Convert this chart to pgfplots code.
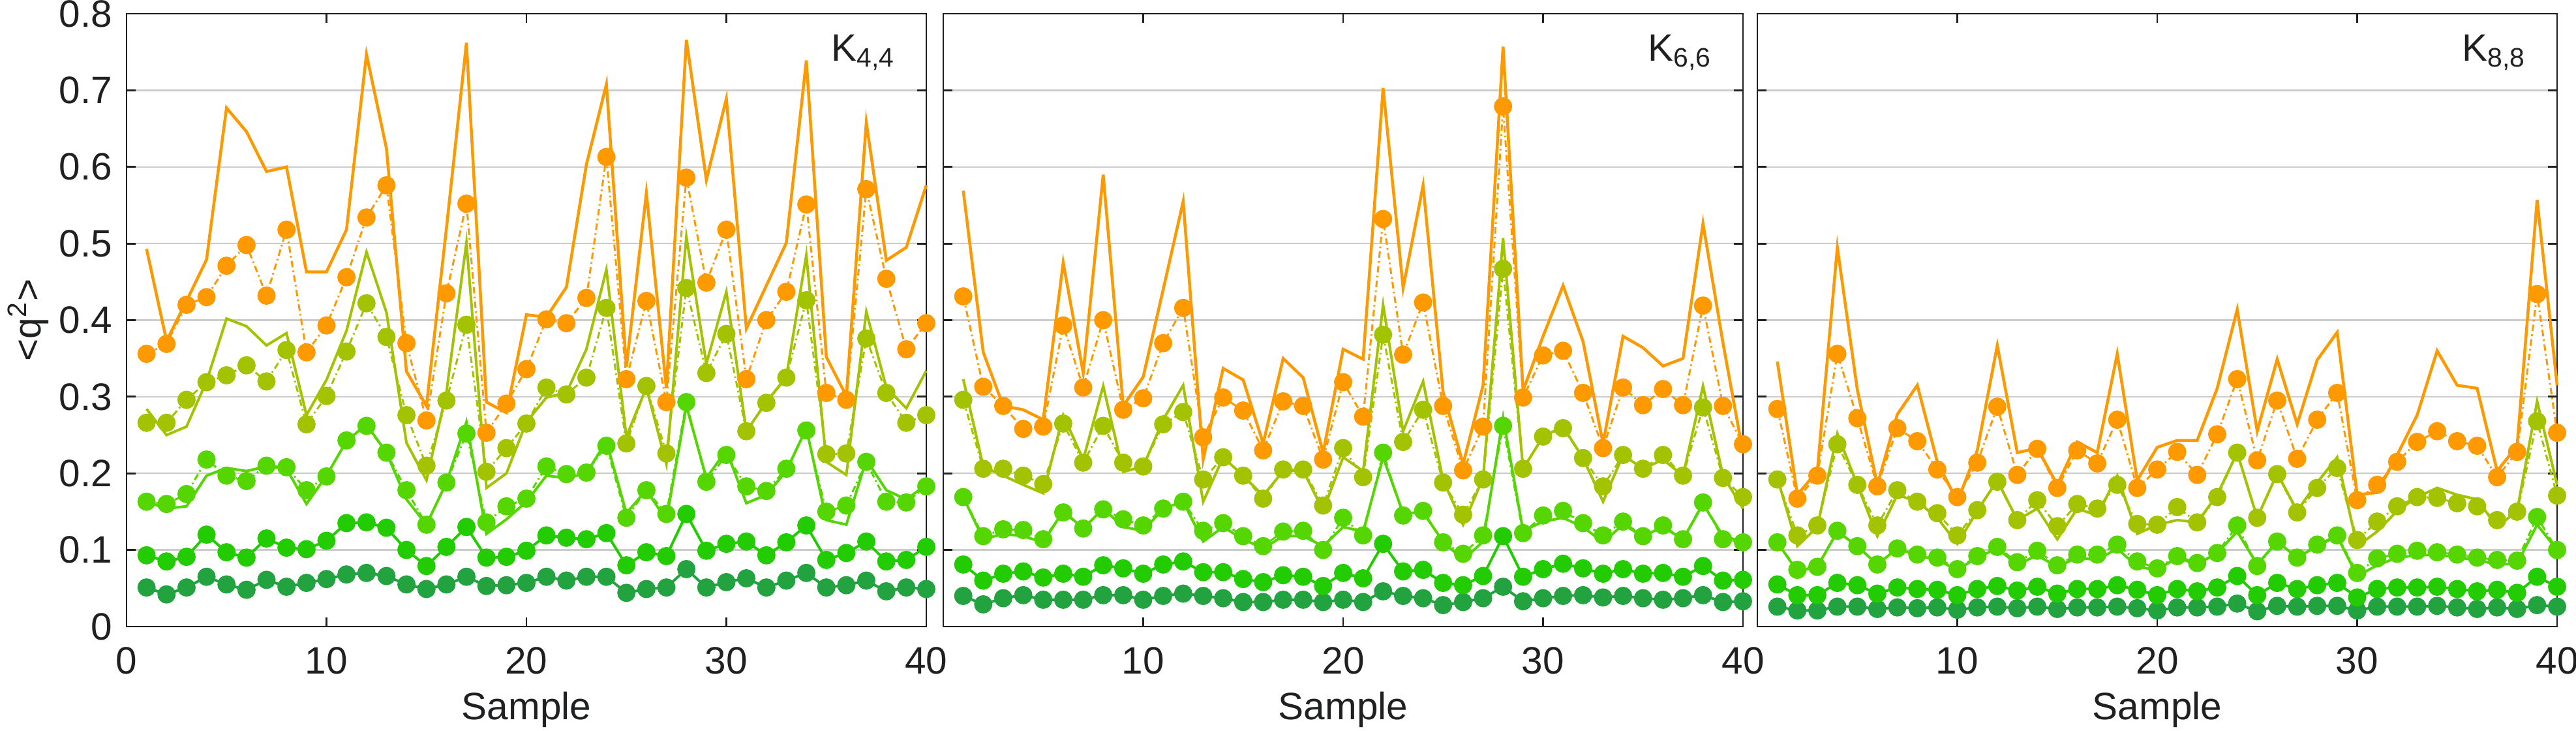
\documentclass[border=0pt]{standalone}
\usepackage{fontspec}
\setmainfont{Liberation Sans}
\usepackage{pgfplots}
\usepackage{pgfplotstable}
\pgfplotsset{compat=1.18}
\definecolor{cOr}{HTML}{FF9900}
\definecolor{cYg}{HTML}{A3C200}
\definecolor{cLg}{HTML}{55D600}
\definecolor{cGr}{HTML}{22CC00}
\definecolor{cDg}{HTML}{22A340}
\definecolor{gridgray}{HTML}{CCCCCC}
\definecolor{axblack}{HTML}{1E2022}
\newcommand\ff{\fontsize{11.7}{14}\selectfont}

\pgfplotstableread{
x Os Om Ys Ym Ls Lm Gm Dm
1 0.493 0.356 0.284 0.266 0.163 0.163 0.093 0.051
2 0.373 0.369 0.250 0.266 0.154 0.160 0.085 0.042
3 0.425 0.420 0.261 0.296 0.157 0.173 0.091 0.051
4 0.479 0.430 0.320 0.319 0.197 0.218 0.120 0.065
5 0.677 0.471 0.402 0.328 0.207 0.197 0.097 0.055
6 0.646 0.498 0.392 0.341 0.203 0.190 0.090 0.048
7 0.594 0.432 0.367 0.320 0.209 0.210 0.115 0.061
8 0.600 0.518 0.383 0.361 0.206 0.208 0.103 0.052
9 0.463 0.358 0.276 0.264 0.160 0.178 0.101 0.057
10 0.463 0.393 0.322 0.301 0.197 0.196 0.112 0.062
11 0.518 0.456 0.386 0.359 0.242 0.243 0.135 0.068
12 0.747 0.534 0.489 0.422 0.264 0.262 0.136 0.070
13 0.624 0.576 0.410 0.378 0.227 0.227 0.129 0.066
14 0.333 0.370 0.240 0.276 0.166 0.178 0.100 0.055
15 0.288 0.269 0.191 0.210 0.133 0.133 0.079 0.049
16 0.520 0.435 0.306 0.295 0.188 0.188 0.104 0.055
17 0.762 0.552 0.501 0.394 0.267 0.252 0.130 0.065
18 0.293 0.253 0.181 0.202 0.121 0.136 0.090 0.053
19 0.279 0.291 0.200 0.233 0.140 0.157 0.091 0.054
20 0.407 0.336 0.267 0.265 0.163 0.167 0.099 0.057
21 0.404 0.401 0.299 0.312 0.197 0.209 0.119 0.065
22 0.443 0.396 0.305 0.303 0.194 0.199 0.116 0.060
23 0.603 0.429 0.362 0.325 0.200 0.201 0.114 0.065
24 0.708 0.613 0.466 0.416 0.242 0.236 0.122 0.065
25 0.339 0.323 0.248 0.239 0.148 0.142 0.080 0.044
26 0.566 0.425 0.312 0.314 0.178 0.178 0.097 0.049
27 0.311 0.293 0.212 0.226 0.139 0.147 0.092 0.051
28 0.766 0.586 0.509 0.442 0.288 0.293 0.147 0.075
29 0.583 0.449 0.343 0.331 0.194 0.189 0.099 0.051
30 0.689 0.518 0.437 0.382 0.230 0.224 0.108 0.058
31 0.389 0.323 0.255 0.255 0.161 0.183 0.111 0.063
32 0.445 0.400 0.293 0.292 0.172 0.177 0.093 0.051
33 0.501 0.437 0.326 0.325 0.203 0.206 0.110 0.060
34 0.739 0.551 0.485 0.426 0.259 0.256 0.132 0.070
35 0.352 0.305 0.215 0.225 0.139 0.150 0.087 0.051
36 0.301 0.296 0.198 0.226 0.133 0.158 0.096 0.054
37 0.658 0.571 0.411 0.376 0.218 0.215 0.111 0.060
38 0.478 0.454 0.312 0.305 0.178 0.163 0.085 0.046
39 0.495 0.362 0.285 0.266 0.166 0.162 0.087 0.051
40 0.576 0.396 0.334 0.276 0.185 0.183 0.104 0.049
}\tA

\pgfplotstableread{
x Os Om Ys Ym Ls Lm Gm Dm
1 0.569 0.431 0.323 0.296 0.169 0.169 0.081 0.040
2 0.358 0.313 0.209 0.206 0.114 0.118 0.060 0.029
3 0.288 0.288 0.197 0.206 0.121 0.127 0.069 0.037
4 0.283 0.258 0.185 0.197 0.118 0.126 0.072 0.041
5 0.270 0.261 0.174 0.186 0.110 0.114 0.064 0.035
6 0.475 0.393 0.276 0.265 0.151 0.149 0.069 0.035
7 0.331 0.312 0.218 0.214 0.128 0.128 0.065 0.035
8 0.590 0.400 0.314 0.262 0.154 0.153 0.080 0.041
9 0.288 0.283 0.202 0.214 0.130 0.140 0.076 0.041
10 0.326 0.298 0.209 0.209 0.125 0.132 0.069 0.035
11 0.440 0.370 0.270 0.264 0.154 0.154 0.081 0.040
12 0.555 0.416 0.315 0.280 0.163 0.163 0.085 0.043
13 0.218 0.247 0.163 0.192 0.111 0.125 0.071 0.040
14 0.337 0.299 0.221 0.221 0.130 0.135 0.071 0.037
15 0.322 0.282 0.197 0.197 0.114 0.118 0.062 0.032
16 0.239 0.230 0.171 0.167 0.102 0.105 0.058 0.032
17 0.350 0.294 0.203 0.205 0.118 0.124 0.067 0.035
18 0.325 0.288 0.204 0.205 0.118 0.125 0.065 0.035
19 0.227 0.218 0.151 0.158 0.105 0.100 0.053 0.032
20 0.362 0.319 0.221 0.233 0.130 0.142 0.070 0.035
21 0.349 0.274 0.203 0.195 0.124 0.119 0.063 0.032
22 0.703 0.532 0.420 0.381 0.221 0.227 0.108 0.046
23 0.442 0.355 0.255 0.241 0.148 0.145 0.072 0.040
24 0.576 0.423 0.320 0.283 0.149 0.151 0.074 0.037
25 0.306 0.288 0.191 0.188 0.111 0.110 0.057 0.028
26 0.212 0.204 0.133 0.146 0.087 0.095 0.054 0.032
27 0.315 0.261 0.194 0.192 0.111 0.119 0.066 0.037
28 0.757 0.679 0.507 0.467 0.273 0.262 0.118 0.052
29 0.308 0.299 0.206 0.206 0.125 0.122 0.065 0.033
30 0.379 0.354 0.248 0.248 0.137 0.145 0.075 0.037
31 0.445 0.360 0.261 0.259 0.142 0.151 0.082 0.040
32 0.372 0.305 0.220 0.220 0.130 0.135 0.076 0.041
33 0.239 0.233 0.163 0.183 0.110 0.119 0.069 0.038
34 0.379 0.312 0.224 0.224 0.133 0.137 0.075 0.040
35 0.364 0.289 0.206 0.206 0.118 0.118 0.069 0.037
36 0.340 0.310 0.218 0.224 0.130 0.132 0.070 0.035
37 0.350 0.289 0.197 0.197 0.114 0.114 0.065 0.037
38 0.526 0.419 0.314 0.286 0.160 0.162 0.079 0.041
39 0.370 0.288 0.197 0.194 0.118 0.114 0.060 0.032
40 0.227 0.238 0.154 0.169 0.111 0.110 0.061 0.033
}\tB

\pgfplotstableread{
x Os Om Ys Ym Ls Lm Gm Dm
1 0.346 0.284 0.194 0.192 0.110 0.110 0.055 0.026
2 0.172 0.167 0.105 0.119 0.072 0.074 0.041 0.021
3 0.203 0.197 0.130 0.132 0.078 0.078 0.041 0.021
4 0.495 0.356 0.252 0.238 0.124 0.125 0.057 0.026
5 0.309 0.272 0.185 0.185 0.105 0.105 0.054 0.026
6 0.185 0.183 0.118 0.132 0.081 0.081 0.043 0.023
7 0.277 0.259 0.172 0.178 0.102 0.102 0.051 0.025
8 0.315 0.242 0.163 0.163 0.093 0.094 0.049 0.024
9 0.215 0.205 0.142 0.148 0.087 0.090 0.048 0.025
10 0.163 0.169 0.108 0.119 0.074 0.075 0.041 0.022
11 0.230 0.214 0.151 0.152 0.090 0.092 0.049 0.025
12 0.367 0.287 0.191 0.189 0.102 0.104 0.053 0.026
13 0.227 0.198 0.139 0.139 0.081 0.084 0.047 0.024
14 0.233 0.232 0.154 0.165 0.093 0.099 0.052 0.026
15 0.185 0.181 0.114 0.131 0.078 0.080 0.043 0.023
16 0.241 0.230 0.154 0.160 0.090 0.094 0.049 0.025
17 0.227 0.213 0.145 0.154 0.087 0.094 0.049 0.025
18 0.356 0.270 0.197 0.185 0.102 0.107 0.054 0.026
19 0.191 0.181 0.121 0.134 0.078 0.085 0.048 0.024
20 0.234 0.205 0.133 0.133 0.074 0.076 0.041 0.021
21 0.243 0.228 0.139 0.156 0.090 0.092 0.049 0.025
22 0.243 0.198 0.136 0.136 0.081 0.083 0.046 0.025
23 0.311 0.251 0.172 0.169 0.096 0.096 0.051 0.026
24 0.414 0.323 0.227 0.227 0.124 0.132 0.066 0.030
25 0.255 0.217 0.142 0.142 0.081 0.079 0.041 0.020
26 0.349 0.295 0.200 0.199 0.111 0.111 0.057 0.027
27 0.264 0.219 0.151 0.149 0.090 0.090 0.049 0.026
28 0.348 0.270 0.188 0.181 0.105 0.107 0.054 0.027
29 0.384 0.305 0.221 0.207 0.118 0.119 0.057 0.027
30 0.172 0.165 0.105 0.113 0.066 0.070 0.038 0.021
31 0.175 0.185 0.124 0.137 0.080 0.089 0.049 0.026
32 0.224 0.215 0.151 0.157 0.090 0.095 0.051 0.026
33 0.276 0.241 0.169 0.169 0.093 0.099 0.051 0.026
34 0.360 0.255 0.181 0.168 0.094 0.097 0.052 0.027
35 0.315 0.242 0.172 0.161 0.090 0.094 0.049 0.025
36 0.311 0.236 0.166 0.157 0.087 0.090 0.046 0.023
37 0.203 0.195 0.130 0.139 0.081 0.087 0.048 0.025
38 0.236 0.228 0.151 0.150 0.082 0.086 0.044 0.023
39 0.557 0.434 0.294 0.268 0.133 0.143 0.065 0.028
40 0.315 0.253 0.185 0.171 0.100 0.100 0.052 0.026
}\tC

\pgfplotsset{
  panel/.style={
    scale only axis, width=245.2pt, height=187.8pt,
    anchor=south west,
    xmin=0, xmax=40, ymin=0, ymax=0.8,
    ytick={0,0.1,0.2,0.3,0.4,0.5,0.6,0.7,0.8},
    ymajorgrids, grid style={draw=gridgray, line width=0.45pt},
    tick align=inside, major tick length=2.8pt,
    axis line style={line width=0.55pt, draw=axblack},
    every tick/.style={line width=0.55pt, draw=axblack},
    tick label style={font=\ff, text=axblack},
    /pgf/number format/assume math mode=true,
    xticklabel style={anchor=base, yshift=-14.6pt, inner sep=0pt},
    yticklabel style={anchor=east, inner sep=0pt, xshift=-4.2pt},
    xlabel={Sample},
    xlabel style={font=\ff, text=axblack, at={(axis description cs:0.5,0)}, anchor=base, yshift=-28.6pt, inner sep=0pt},
    clip=false,
  },
  sol/.style={draw=#1, line width=0.8pt, solid, mark=none},
  mk/.style={draw=#1, line width=0.6pt, dash pattern=on 2pt off 1pt on 0.5pt off 1pt, mark=*, mark size=2.5pt, mark options={solid, fill=#1, draw=#1}},
}

\newcommand\series[1]{%
  \addplot[sol=cDg] table[x=x,y=Dm]{#1};
  \addplot[mk=cDg] table[x=x,y=Dm]{#1};
  \addplot[sol=cGr] table[x=x,y=Gm]{#1};
  \addplot[mk=cGr] table[x=x,y=Gm]{#1};
  \addplot[sol=cLg] table[x=x,y=Ls]{#1};
  \addplot[mk=cLg] table[x=x,y=Lm]{#1};
  \addplot[sol=cYg] table[x=x,y=Ys]{#1};
  \addplot[mk=cYg] table[x=x,y=Ym]{#1};
  \addplot[sol=cOr, line width=0.9pt] table[x=x,y=Os]{#1};
  \addplot[mk=cOr] table[x=x,y=Om]{#1};
}

\begin{document}
\begin{tikzpicture}
\useasboundingbox (0,-32pt) rectangle (789.8pt,192pt);
\begin{axis}[panel, at={(38.8pt,0pt)}, xtick={0,10,20,30,40}]
\series{\tA}
\node[font=\ff, text=axblack, anchor=base east, inner sep=0pt] at ([xshift=-9.2pt,yshift=-14.4pt]rel axis cs:1,1) {K\textsubscript{4,4}};
\node[font=\ff, text=axblack, rotate=90, anchor=center, inner sep=0pt] at ([xshift=-30.2pt]rel axis cs:0,0.5) {<q\textsuperscript{2}>};
\end{axis}
\begin{axis}[panel, at={(289.2pt,0pt)}, xtick={10,20,30,40}, yticklabels={}]
\series{\tB}
\node[font=\ff, text=axblack, anchor=base east, inner sep=0pt] at ([xshift=-9.2pt,yshift=-14.4pt]rel axis cs:1,1) {K\textsubscript{6,6}};
\end{axis}
\begin{axis}[panel, at={(538.8pt,0pt)}, xtick={10,20,30,40}, yticklabels={}]
\series{\tC}
\node[font=\ff, text=axblack, anchor=base east, inner sep=0pt] at ([xshift=-9.2pt,yshift=-14.4pt]rel axis cs:1,1) {K\textsubscript{8,8}};
\end{axis}
\end{tikzpicture}
\end{document}
